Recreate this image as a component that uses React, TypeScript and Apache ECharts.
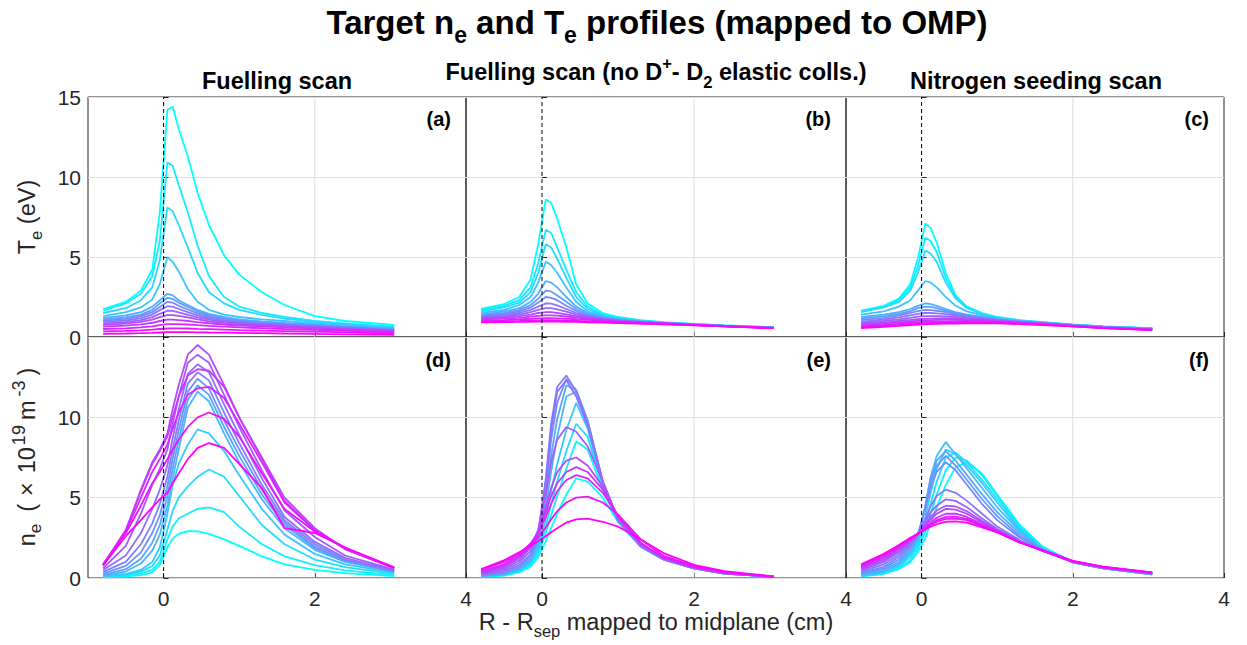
import React, { useEffect, useRef } from "react";
import * as echarts from "echarts";

// ---------------- data ----------------
const X_CM = [-0.8, -0.5, -0.3, -0.15, -0.05, 0.05, 0.12, 0.2, 0.32, 0.45, 0.6, 0.8, 1.0, 1.3, 1.6, 2.0, 2.4, 3.05];
const X_TICKS = [0, 2, 4];
const Y_MIN = 0;
const Y_MAX = 15;
const Y_STEP = 5;

// (a) Te, fuelling scan
const TE_FUEL = [
  [1.75, 2.2, 2.9, 4.2, 7.8, 14.2, 14.4, 13.0, 11.3, 9.0, 7.0, 5.1, 3.9, 2.8, 2.0, 1.3, 1.0, 0.75],
  [1.65, 2.1, 2.7, 3.8, 6.0, 10.9, 10.7, 9.5, 7.8, 5.7, 3.8, 2.5, 1.9, 1.5, 1.25, 1.0, 0.85, 0.65],
  [1.5, 1.8, 2.3, 3.1, 4.8, 8.1, 7.85, 7.0, 5.6, 4.0, 2.8, 2.1, 1.7, 1.38, 1.15, 0.95, 0.8, 0.6],
  [1.3, 1.55, 1.85, 2.35, 3.3, 5.0, 4.7, 4.1, 3.0, 2.2, 1.7, 1.4, 1.25, 1.1, 1.0, 0.85, 0.72, 0.55],
  [1.2, 1.35, 1.55, 1.9, 2.3, 2.7, 2.6, 2.3, 2.0, 1.7, 1.45, 1.25, 1.1, 0.97, 0.88, 0.77, 0.66, 0.5],
  [1.1, 1.22, 1.4, 1.7, 2.1, 2.45, 2.38, 2.15, 1.88, 1.6, 1.37, 1.17, 1.03, 0.92, 0.83, 0.73, 0.63, 0.47],
  [1.02, 1.12, 1.3, 1.55, 1.88, 2.2, 2.15, 1.95, 1.72, 1.48, 1.28, 1.1, 0.98, 0.88, 0.8, 0.7, 0.6, 0.45],
  [0.94, 1.02, 1.18, 1.4, 1.68, 1.92, 1.9, 1.75, 1.55, 1.35, 1.18, 1.03, 0.93, 0.84, 0.76, 0.67, 0.58, 0.43],
  [0.85, 0.93, 1.05, 1.24, 1.45, 1.64, 1.63, 1.54, 1.39, 1.23, 1.08, 0.96, 0.87, 0.79, 0.72, 0.63, 0.55, 0.4],
  [0.76, 0.84, 0.94, 1.08, 1.24, 1.37, 1.37, 1.32, 1.22, 1.1, 0.98, 0.88, 0.8, 0.73, 0.67, 0.59, 0.51, 0.37],
  [0.65, 0.71, 0.79, 0.89, 1.0, 1.09, 1.09, 1.06, 1.0, 0.93, 0.86, 0.78, 0.72, 0.66, 0.6, 0.53, 0.46, 0.33],
  [0.5, 0.54, 0.6, 0.67, 0.74, 0.8, 0.8, 0.8, 0.78, 0.74, 0.7, 0.65, 0.6, 0.55, 0.5, 0.45, 0.39, 0.28],
  [0.35, 0.38, 0.42, 0.46, 0.5, 0.53, 0.54, 0.54, 0.53, 0.51, 0.49, 0.46, 0.43, 0.4, 0.37, 0.33, 0.29, 0.21],
  [0.2, 0.22, 0.24, 0.26, 0.28, 0.3, 0.3, 0.3, 0.3, 0.29, 0.28, 0.27, 0.26, 0.24, 0.22, 0.2, 0.17, 0.13],
];

// (b) Te, fuelling scan without D+ - D2 elastic collisions
const TE_NOEL = [
  [1.75, 2.05, 2.5, 3.6, 5.8, 8.6, 8.4, 7.4, 5.6, 3.3, 2.1, 1.5, 1.25, 1.05, 0.93, 0.82, 0.73, 0.6],
  [1.7, 1.95, 2.3, 3.1, 4.6, 6.7, 6.5, 5.6, 4.2, 2.8, 1.9, 1.4, 1.2, 1.02, 0.91, 0.81, 0.72, 0.6],
  [1.6, 1.85, 2.15, 2.8, 4.0, 5.8, 5.6, 4.9, 3.7, 2.5, 1.75, 1.35, 1.15, 1.0, 0.9, 0.8, 0.71, 0.6],
  [1.5, 1.7, 2.0, 2.5, 3.4, 4.7, 4.5, 4.0, 3.1, 2.2, 1.6, 1.3, 1.12, 0.98, 0.89, 0.79, 0.7, 0.59],
  [1.4, 1.6, 1.8, 2.2, 2.7, 3.5, 3.4, 3.1, 2.5, 1.9, 1.5, 1.25, 1.1, 0.97, 0.88, 0.78, 0.7, 0.59],
  [1.35, 1.5, 1.7, 2.0, 2.4, 2.9, 2.85, 2.6, 2.2, 1.75, 1.42, 1.2, 1.08, 0.96, 0.87, 0.78, 0.69, 0.58],
  [1.3, 1.45, 1.6, 1.85, 2.15, 2.5, 2.45, 2.3, 1.95, 1.62, 1.36, 1.17, 1.06, 0.95, 0.87, 0.77, 0.69, 0.58],
  [1.25, 1.38, 1.5, 1.7, 1.9, 2.1, 2.08, 1.98, 1.75, 1.5, 1.3, 1.15, 1.04, 0.94, 0.86, 0.77, 0.69, 0.58],
  [1.2, 1.3, 1.4, 1.55, 1.7, 1.8, 1.8, 1.72, 1.58, 1.4, 1.25, 1.12, 1.02, 0.93, 0.86, 0.77, 0.68, 0.57],
  [1.15, 1.22, 1.3, 1.4, 1.5, 1.55, 1.55, 1.5, 1.42, 1.3, 1.2, 1.09, 1.0, 0.92, 0.85, 0.76, 0.68, 0.57],
  [1.1, 1.15, 1.2, 1.27, 1.32, 1.35, 1.35, 1.33, 1.28, 1.22, 1.14, 1.06, 0.98, 0.9, 0.84, 0.76, 0.68, 0.56],
  [1.02, 1.06, 1.1, 1.14, 1.17, 1.18, 1.18, 1.17, 1.15, 1.11, 1.07, 1.01, 0.95, 0.88, 0.83, 0.75, 0.67, 0.56],
  [0.97, 0.99, 1.01, 1.03, 1.04, 1.05, 1.05, 1.04, 1.03, 1.01, 0.98, 0.95, 0.91, 0.86, 0.81, 0.74, 0.66, 0.55],
  [0.92, 0.93, 0.94, 0.95, 0.96, 0.96, 0.96, 0.96, 0.95, 0.94, 0.92, 0.9, 0.87, 0.83, 0.79, 0.73, 0.66, 0.55],
];

// (c) Te, nitrogen seeding scan
const TE_NSEED = [
  [1.65, 1.95, 2.4, 3.3, 4.9, 7.1, 6.8, 5.9, 4.0, 2.6, 1.9, 1.5, 1.25, 1.05, 0.93, 0.78, 0.67, 0.55],
  [1.6, 1.9, 2.3, 3.1, 4.4, 6.2, 6.0, 5.3, 3.7, 2.5, 1.85, 1.45, 1.22, 1.03, 0.92, 0.77, 0.66, 0.54],
  [1.55, 1.85, 2.2, 2.9, 4.0, 5.4, 5.2, 4.7, 3.4, 2.4, 1.8, 1.42, 1.2, 1.02, 0.91, 0.76, 0.65, 0.54],
  [1.4, 1.6, 1.9, 2.3, 2.9, 3.5, 3.4, 3.1, 2.5, 1.95, 1.6, 1.35, 1.17, 1.0, 0.9, 0.76, 0.65, 0.53],
  [1.25, 1.4, 1.55, 1.75, 1.95, 2.1, 2.05, 1.95, 1.75, 1.55, 1.4, 1.25, 1.12, 0.98, 0.89, 0.75, 0.64, 0.52],
  [1.15, 1.3, 1.45, 1.62, 1.8, 1.9, 1.88, 1.8, 1.65, 1.5, 1.36, 1.22, 1.1, 0.97, 0.88, 0.74, 0.63, 0.51],
  [1.05, 1.2, 1.35, 1.5, 1.62, 1.7, 1.68, 1.64, 1.55, 1.43, 1.32, 1.2, 1.08, 0.96, 0.87, 0.73, 0.62, 0.5],
  [0.95, 1.1, 1.22, 1.35, 1.45, 1.5, 1.5, 1.48, 1.43, 1.36, 1.28, 1.17, 1.06, 0.95, 0.86, 0.72, 0.61, 0.49],
  [0.88, 1.0, 1.1, 1.2, 1.27, 1.3, 1.3, 1.3, 1.28, 1.25, 1.2, 1.12, 1.03, 0.93, 0.85, 0.71, 0.6, 0.48],
  [0.8, 0.9, 1.0, 1.07, 1.12, 1.15, 1.15, 1.16, 1.16, 1.15, 1.12, 1.07, 1.0, 0.91, 0.83, 0.7, 0.59, 0.47],
  [0.74, 0.83, 0.92, 0.98, 1.02, 1.05, 1.06, 1.07, 1.08, 1.08, 1.06, 1.03, 0.97, 0.89, 0.81, 0.69, 0.58, 0.46],
  [0.67, 0.76, 0.84, 0.9, 0.93, 0.95, 0.96, 0.97, 0.98, 0.99, 0.99, 0.97, 0.93, 0.87, 0.79, 0.68, 0.57, 0.45],
  [0.61, 0.69, 0.76, 0.82, 0.85, 0.87, 0.88, 0.89, 0.9, 0.91, 0.92, 0.91, 0.89, 0.84, 0.77, 0.67, 0.56, 0.44],
  [0.56, 0.63, 0.7, 0.75, 0.78, 0.8, 0.81, 0.82, 0.83, 0.84, 0.85, 0.86, 0.85, 0.81, 0.75, 0.66, 0.55, 0.43],
];

// (d) ne, fuelling scan
const NE_FUEL = [
  [0.05, 0.1, 0.18, 0.35, 0.8, 1.9, 2.45, 2.75, 2.92, 2.9, 2.75, 2.4, 2.0, 1.35, 0.85, 0.5, 0.3, 0.12],
  [0.07, 0.15, 0.28, 0.5, 1.0, 2.4, 3.2, 3.7, 4.0, 4.3, 4.4, 4.1, 3.2, 2.1, 1.35, 0.8, 0.48, 0.18],
  [0.1, 0.2, 0.4, 0.75, 1.4, 3.0, 4.2, 5.0, 5.7, 6.3, 6.75, 6.3, 5.1, 3.3, 2.1, 1.15, 0.68, 0.26],
  [0.12, 0.25, 0.5, 1.0, 1.9, 4.0, 5.8, 7.1, 8.3, 9.25, 9.0, 7.9, 6.4, 4.3, 2.7, 1.5, 0.85, 0.33],
  [0.15, 0.4, 0.9, 1.7, 2.7, 4.5, 6.2, 8.0, 10.6, 11.6, 11.0, 9.0, 7.2, 4.9, 3.1, 1.75, 1.0, 0.38],
  [0.2, 0.55, 1.2, 2.2, 3.3, 5.1, 6.8, 8.6, 11.1, 12.0, 11.4, 9.4, 7.6, 5.2, 3.3, 1.85, 1.05, 0.4],
  [0.28, 0.75, 1.6, 2.8, 3.9, 5.7, 7.4, 9.2, 11.6, 12.4, 11.8, 9.8, 8.0, 5.5, 3.45, 1.95, 1.1, 0.42],
  [0.38, 1.0, 2.1, 3.4, 4.6, 6.3, 8.0, 9.8, 12.1, 12.8, 12.3, 10.3, 8.4, 5.8, 3.6, 2.1, 1.15, 0.45],
  [0.5, 1.4, 2.8, 4.3, 5.5, 7.0, 8.7, 10.5, 12.7, 13.3, 12.8, 10.8, 8.9, 6.2, 3.8, 2.25, 1.25, 0.48],
  [0.6, 2.0, 4.0, 5.8, 6.8, 8.0, 9.6, 11.3, 13.4, 13.9, 13.4, 11.4, 9.4, 6.7, 4.2, 2.55, 1.4, 0.52],
  [0.75, 2.9, 5.5, 7.2, 8.0, 9.0, 10.5, 12.0, 13.9, 14.5, 13.9, 12.0, 10.0, 7.5, 5.0, 3.1, 1.8, 0.6],
  [0.8, 3.0, 5.4, 7.1, 7.9, 8.8, 10.0, 11.3, 12.6, 13.0, 12.9, 11.9, 10.0, 7.4, 4.8, 3.0, 1.8, 0.64],
  [0.85, 2.9, 5.0, 6.6, 7.4, 8.3, 9.3, 10.3, 11.4, 11.8, 11.9, 11.2, 9.6, 7.2, 4.7, 2.95, 1.85, 0.66],
  [0.85, 2.8, 4.5, 5.9, 6.6, 7.4, 8.0, 8.6, 9.4, 10.0, 10.3, 9.9, 8.8, 6.5, 4.3, 2.9, 1.9, 0.66],
  [0.8, 2.6, 3.6, 4.4, 4.9, 5.3, 5.9, 6.5, 7.4, 8.1, 8.4, 8.1, 7.1, 5.6, 3.1, 2.8, 1.9, 0.62],
];

// (e) ne, fuelling scan without D+ - D2 elastic collisions
const NE_NOEL = [
  [0.08, 0.15, 0.35, 0.7, 1.3, 2.3, 3.1, 4.0, 5.2, 6.2, 6.0, 5.0, 3.5, 2.0, 1.2, 0.62, 0.3, 0.08],
  [0.09, 0.17, 0.4, 0.8, 1.5, 2.8, 3.9, 5.1, 6.8, 8.5, 8.0, 5.5, 3.5, 1.95, 1.15, 0.6, 0.28, 0.07],
  [0.1, 0.2, 0.45, 0.9, 1.7, 3.2, 4.6, 6.0, 7.9, 9.6, 8.8, 5.7, 3.5, 1.95, 1.15, 0.6, 0.28, 0.07],
  [0.11, 0.22, 0.5, 1.0, 1.9, 3.7, 5.4, 7.1, 9.2, 10.9, 9.3, 5.8, 3.5, 1.95, 1.15, 0.6, 0.28, 0.07],
  [0.12, 0.25, 0.55, 1.1, 2.1, 4.4, 6.6, 8.8, 11.3, 11.6, 9.6, 5.9, 3.55, 1.95, 1.15, 0.6, 0.28, 0.07],
  [0.13, 0.28, 0.6, 1.2, 2.3, 5.0, 7.6, 9.9, 12.0, 11.7, 9.8, 6.0, 3.6, 1.97, 1.16, 0.6, 0.28, 0.07],
  [0.15, 0.32, 0.7, 1.35, 2.5, 5.6, 8.6, 10.9, 12.4, 11.7, 9.8, 6.0, 3.6, 1.98, 1.16, 0.6, 0.28, 0.07],
  [0.18, 0.38, 0.8, 1.5, 2.7, 6.2, 9.6, 11.9, 12.6, 11.6, 9.7, 6.0, 3.62, 2.0, 1.17, 0.61, 0.29, 0.07],
  [0.22, 0.45, 0.95, 1.7, 2.9, 6.0, 9.2, 11.6, 12.3, 11.3, 9.5, 6.0, 3.65, 2.0, 1.18, 0.62, 0.3, 0.07],
  [0.27, 0.55, 1.1, 1.9, 3.0, 5.2, 7.2, 8.6, 9.4, 9.1, 8.2, 6.0, 3.7, 2.05, 1.2, 0.63, 0.3, 0.07],
  [0.32, 0.65, 1.25, 2.0, 2.9, 4.4, 5.6, 6.6, 7.3, 7.5, 7.0, 5.7, 3.8, 2.1, 1.22, 0.64, 0.31, 0.07],
  [0.37, 0.75, 1.35, 2.1, 2.85, 4.1, 5.1, 5.9, 6.6, 6.9, 6.6, 5.5, 3.85, 2.15, 1.25, 0.66, 0.32, 0.08],
  [0.42, 0.85, 1.45, 2.15, 2.8, 3.8, 4.6, 5.4, 6.1, 6.4, 6.2, 5.3, 3.9, 2.2, 1.28, 0.68, 0.33, 0.08],
  [0.5, 1.0, 1.55, 2.1, 2.55, 3.15, 3.65, 4.15, 4.7, 5.0, 5.06, 4.7, 3.95, 2.4, 1.38, 0.74, 0.37, 0.09],
  [0.55, 1.1, 1.6, 2.0, 2.3, 2.6, 2.85, 3.1, 3.45, 3.65, 3.7, 3.5, 3.2, 2.4, 1.55, 0.82, 0.42, 0.1],
];

// (f) ne, nitrogen seeding scan
const NE_NSEED = [
  [0.1, 0.25, 0.55, 1.0, 1.6, 2.5, 3.4, 4.4, 5.8, 6.9, 7.2, 6.5, 5.2, 3.3, 1.95, 1.0, 0.6, 0.22],
  [0.11, 0.28, 0.6, 1.1, 1.8, 2.9, 4.0, 5.2, 6.7, 7.5, 7.3, 6.4, 5.1, 3.2, 1.9, 1.0, 0.6, 0.22],
  [0.13, 0.32, 0.7, 1.3, 2.0, 3.3, 4.6, 6.0, 7.5, 7.8, 7.2, 6.1, 4.9, 3.1, 1.85, 1.0, 0.6, 0.22],
  [0.15, 0.36, 0.8, 1.45, 2.2, 3.8, 5.3, 6.8, 8.0, 7.7, 7.0, 5.9, 4.7, 3.0, 1.8, 1.0, 0.6, 0.23],
  [0.18, 0.42, 0.9, 1.6, 2.4, 4.5, 6.3, 7.6, 8.46, 7.7, 6.8, 5.6, 4.4, 2.9, 1.78, 0.98, 0.6, 0.23],
  [0.22, 0.5, 1.0, 1.75, 2.5, 4.5, 6.2, 7.3, 7.9, 7.3, 6.4, 5.2, 4.1, 2.75, 1.75, 0.98, 0.6, 0.24],
  [0.27, 0.6, 1.15, 1.9, 2.6, 4.4, 6.0, 7.0, 7.6, 7.0, 6.1, 4.9, 3.85, 2.6, 1.72, 0.98, 0.61, 0.25],
  [0.32, 0.7, 1.3, 2.0, 2.7, 4.3, 5.7, 6.6, 7.2, 6.7, 5.8, 4.6, 3.6, 2.5, 1.7, 0.98, 0.62, 0.26],
  [0.4, 0.85, 1.45, 2.1, 2.75, 3.7, 4.5, 5.1, 5.5, 5.3, 4.8, 4.0, 3.2, 2.35, 1.68, 0.99, 0.63, 0.27],
  [0.47, 1.0, 1.6, 2.2, 2.75, 3.5, 4.1, 4.5, 4.9, 4.8, 4.4, 3.7, 3.05, 2.3, 1.68, 1.0, 0.64, 0.28],
  [0.55, 1.1, 1.7, 2.3, 2.75, 3.35, 3.8, 4.2, 4.5, 4.45, 4.15, 3.55, 3.0, 2.27, 1.68, 1.01, 0.65, 0.3],
  [0.62, 1.2, 1.8, 2.35, 2.75, 3.25, 3.65, 4.0, 4.3, 4.25, 4.0, 3.45, 2.95, 2.25, 1.69, 1.02, 0.66, 0.31],
  [0.68, 1.3, 1.9, 2.4, 2.75, 3.15, 3.45, 3.75, 4.0, 4.0, 3.8, 3.35, 2.9, 2.23, 1.7, 1.03, 0.67, 0.32],
  [0.75, 1.4, 1.95, 2.45, 2.75, 3.1, 3.35, 3.6, 3.8, 3.82, 3.68, 3.28, 2.88, 2.22, 1.71, 1.04, 0.68, 0.33],
  [0.8, 1.45, 2.0, 2.45, 2.75, 3.05, 3.3, 3.5, 3.68, 3.7, 3.6, 3.22, 2.86, 2.21, 1.72, 1.05, 0.69, 0.34],
  [0.85, 1.5, 2.05, 2.5, 2.75, 3.0, 3.2, 3.35, 3.5, 3.52, 3.45, 3.15, 2.84, 2.2, 1.73, 1.06, 0.7, 0.35],
];

const PANEL_LETTERS = ["(a)", "(b)", "(c)", "(d)", "(e)", "(f)"];
const SEPARATRIX_X = 0;
const GRID_LINE_X = 2;

// ---------------- layout / style ----------------
const FONT = '"Liberation Sans", Arial, Helvetica, sans-serif';
const AX = "#262626";
const GRIDS = [
  { left: 88, top: 97, width: 378, height: 240 },
  { left: 466, top: 97, width: 380, height: 240 },
  { left: 846, top: 97, width: 378, height: 240 },
  { left: 88, top: 337, width: 378, height: 241 },
  { left: 466, top: 337, width: 380, height: 241 },
  { left: 846, top: 337, width: 378, height: 241 },
];

function cool(i: number, n: number) {
  const t = n > 1 ? i / (n - 1) : 0;
  return `rgb(${Math.round(255 * t)},${Math.round(255 * (1 - t))},255)`;
}

function buildOption() {
  const panels = [TE_FUEL, TE_NOEL, TE_NSEED, NE_FUEL, NE_NOEL, NE_NSEED];
  const series: any[] = [];
  panels.forEach((lines, k) => {
    series.push({
      type: "line", xAxisIndex: k, yAxisIndex: k, silent: true, symbol: "none", z: 1,
      data: [[GRID_LINE_X, Y_MIN], [GRID_LINE_X, Y_MAX]],
      lineStyle: { color: "#dedede", width: 1 },
    });
    lines.forEach((vals, i) => {
      series.push({
        type: "line", xAxisIndex: k, yAxisIndex: k, silent: true, symbol: "none", showSymbol: false, z: 2,
        data: X_CM.map((x, j) => [x, vals[j]]),
        lineStyle: { color: cool(i, lines.length), width: 1.8 },
      });
    });
    series.push({
      type: "line", xAxisIndex: k, yAxisIndex: k, silent: true, symbol: "none", z: 3,
      data: [[SEPARATRIX_X, Y_MIN], [SEPARATRIX_X, Y_MAX]],
      lineStyle: { color: "#000", width: 1, type: [4, 3] },
    });
  });

  const main = { fontFamily: FONT, fill: "#000" };
  const graphic: any[] = [
    {
      type: "text", x: 657, y: 22, silent: true,
      style: {
        text: "{b|Target n}{s|e}{b| and T}{s|e}{b| profiles (mapped to OMP)}",
        align: "center", verticalAlign: "middle",
        rich: {
          b: { ...main, fontSize: 33, fontWeight: "bold", lineHeight: 48, verticalAlign: "middle" },
          s: { ...main, fontSize: 23, fontWeight: "bold", lineHeight: 20, verticalAlign: "bottom" },
        },
      },
    },
    {
      type: "text", x: 277, y: 81, silent: true,
      style: { text: "Fuelling scan", align: "center", verticalAlign: "middle", fontSize: 23.5, fontWeight: "bold", fontFamily: FONT, fill: "#000" },
    },
    {
      type: "text", x: 656, y: 72, silent: true,
      style: {
        text: "{b|Fuelling scan (no D}{p|+}{b|- D}{s|2}{b| elastic colls.)}",
        align: "center", verticalAlign: "middle",
        rich: {
          b: { ...main, fontSize: 23.5, fontWeight: "bold", lineHeight: 36, verticalAlign: "middle" },
          p: { ...main, fontSize: 16.5, fontWeight: "bold", lineHeight: 14, verticalAlign: "top" },
          s: { ...main, fontSize: 16.5, fontWeight: "bold", lineHeight: 14, verticalAlign: "bottom" },
        },
      },
    },
    {
      type: "text", x: 1036, y: 81, silent: true,
      style: { text: "Nitrogen seeding scan", align: "center", verticalAlign: "middle", fontSize: 23.5, fontWeight: "bold", fontFamily: FONT, fill: "#000" },
    },
    {
      type: "text", x: 656, y: 622, silent: true,
      style: {
        text: "{n|R - R}{s|sep}{n| mapped to midplane (cm)}",
        align: "center", verticalAlign: "middle",
        rich: {
          n: { ...main, fill: AX, fontSize: 23.5, lineHeight: 34, verticalAlign: "middle" },
          s: { ...main, fill: AX, fontSize: 16.5, lineHeight: 14, verticalAlign: "bottom" },
        },
      },
    },
    {
      type: "text", x: 27, y: 217, rotation: Math.PI / 2, silent: true,
      style: {
        text: "{n|T}{s|e}{n| (eV)}",
        align: "center", verticalAlign: "middle",
        rich: {
          n: { ...main, fill: AX, fontSize: 23.5, lineHeight: 34, verticalAlign: "middle" },
          s: { ...main, fill: AX, fontSize: 16.5, lineHeight: 14, verticalAlign: "bottom" },
        },
      },
    },
    {
      type: "text", x: 27, y: 457, rotation: Math.PI / 2, silent: true,
      style: {
        text: "{n|n}{s|e}{g|(}{x|×}{n|10}{p|19}{m|m}{p|-3}{q|)}",
        align: "center", verticalAlign: "middle",
        rich: {
          n: { ...main, fill: AX, fontSize: 23.5, lineHeight: 34, verticalAlign: "middle" },
          g: { ...main, fill: AX, fontSize: 23.5, lineHeight: 34, verticalAlign: "middle", padding: [0, 0, 0, 12] },
          x: { ...main, fill: AX, fontSize: 23.5, lineHeight: 34, verticalAlign: "middle", padding: [0, 9, 0, 8] },
          m: { ...main, fill: AX, fontSize: 23.5, lineHeight: 34, verticalAlign: "middle", padding: [0, 2, 0, 4] },
          q: { ...main, fill: AX, fontSize: 23.5, lineHeight: 34, verticalAlign: "middle", padding: [0, 0, 0, 4] },
          s: { ...main, fill: AX, fontSize: 17, lineHeight: 14, verticalAlign: "bottom" },
          p: { ...main, fill: AX, fontSize: 18, lineHeight: 14, verticalAlign: "top", padding: [0, 1, 0, 2] },
        },
      },
    },
  ];
  GRIDS.forEach((g, k) => {
    graphic.push({
      type: "text", x: g.left + g.width - 15, y: g.top + (k < 3 ? 22 : 23), silent: true,
      style: { text: PANEL_LETTERS[k], align: "right", verticalAlign: "middle", fontSize: 20, fontWeight: "bold", fontFamily: FONT, fill: "#000" },
    });
  });

  return {
    animation: false,
    backgroundColor: "#ffffff",
    grid: GRIDS.map((g) => ({
      ...g, show: true, borderColor: AX, borderWidth: 1, backgroundColor: "transparent",
      containLabel: false, outerBoundsMode: "none",
    })),
    xAxis: GRIDS.map((_, k) => ({
      type: "value", gridIndex: k, min: -1, max: 4,
      axisLine: { show: false },
      axisTick: { show: true, inside: true, length: 5, customValues: X_TICKS, lineStyle: { color: AX } },
      axisLabel: { show: k >= 3, customValues: X_TICKS, fontSize: 21, fontFamily: FONT, color: AX, margin: 10 },
      splitLine: { show: false },
    })),
    yAxis: GRIDS.map((_, k) => ({
      type: "value", gridIndex: k, min: Y_MIN, max: Y_MAX, interval: Y_STEP,
      axisLine: { show: false },
      axisTick: { show: true, inside: true, length: 5, lineStyle: { color: AX } },
      axisLabel: {
        show: k === 0 || k === 3, fontSize: 21, fontFamily: FONT, color: AX, margin: 7,
        formatter: (v: number) => (k === 3 && v === Y_MAX ? "" : String(v)),
      },
      splitLine: { show: true, lineStyle: { color: "#dedede", width: 1 } },
    })),
    series,
    graphic,
  };
}

export default function App() {
  const ref = useRef<HTMLDivElement>(null);
  useEffect(() => {
    if (!ref.current) return;
    const chart = echarts.init(ref.current, undefined, { renderer: "svg" });
    chart.setOption(buildOption() as any);
    return () => chart.dispose();
  }, []);
  return (
    <div
      ref={ref}
      style={{ position: "fixed", left: 0, top: 0, width: 1247, height: 645, background: "#fff" }}
    />
  );
}
